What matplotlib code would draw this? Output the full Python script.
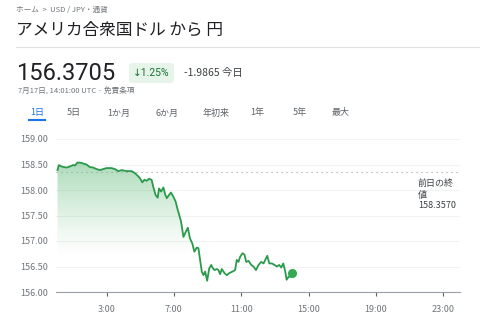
import matplotlib.pyplot as plt
import numpy as np
from matplotlib.patches import FancyBboxPatch, Polygon

plt.rcParams['font.family'] = ['Noto Sans CJK JP', 'DejaVu Sans']

# 時刻 (UTC, 時) と USD/JPY の値
hours = [0.09, 0.17, 0.33, 0.62, 0.82, 1.02, 1.12, 1.28, 1.52, 1.81, 2.01, 2.21, 2.41, 2.61,
         2.8, 3.0, 3.3, 3.5, 3.7, 3.9, 4.2, 4.5, 4.69, 4.85, 4.99, 5.13, 5.25, 5.39, 5.52,
         5.68, 5.78, 5.92, 6.04, 6.12, 6.24, 6.38, 6.48, 6.58, 6.71, 6.83, 6.97, 7.11, 7.23,
         7.27, 7.43, 7.57, 7.71, 7.83, 7.96, 8.1, 8.22, 8.36, 8.46, 8.56, 8.66, 8.76, 8.86,
         8.98, 9.1, 9.22, 9.29, 9.41, 9.55, 9.65, 9.75, 9.85, 10.01, 10.15, 10.29, 10.48,
         10.64, 10.74, 10.84, 10.94, 11.08, 11.2, 11.3, 11.44, 11.6, 11.73, 11.88, 12.03,
         12.19, 12.33, 12.43, 12.55, 12.67, 12.83, 12.98, 13.12, 13.26, 13.38, 13.5, 13.62,
         13.7, 13.82, 13.92, 14.02]
values = [158.39, 158.49, 158.46, 158.44, 158.46, 158.49, 158.48, 158.54, 158.53, 158.50,
          158.45, 158.44, 158.41, 158.39, 158.41, 158.43, 158.43, 158.41, 158.37, 158.39,
          158.37, 158.37, 158.33, 158.28, 158.23, 158.15, 158.20, 158.18, 158.22, 158.20,
          158.06, 157.90, 157.85, 158.03, 157.97, 158.05, 157.92, 157.84, 157.90, 157.95,
          157.87, 157.77, 157.61, 157.57, 157.38, 157.08, 157.18, 157.26, 157.05, 156.95,
          156.79, 156.87, 156.86, 156.63, 156.40, 156.33, 156.40, 156.22, 156.46, 156.53,
          156.48, 156.43, 156.45, 156.43, 156.35, 156.45, 156.37, 156.33, 156.37, 156.40,
          156.43, 156.63, 156.59, 156.69, 156.76, 156.73, 156.59, 156.61, 156.53, 156.50,
          156.43, 156.53, 156.59, 156.56, 156.63, 156.71, 156.56, 156.56, 156.53, 156.50,
          156.53, 156.48, 156.56, 156.40, 156.24, 156.30, 156.30, 156.3705]
prev_close = 158.3570
y_ticks = [156.0, 156.5, 157.0, 157.5, 158.0, 158.5, 159.0]
x_ticks = [3, 7, 11, 15, 19, 23]
x_labels = ['3:00', '7:00', '11:00', '15:00', '19:00', '23:00']
tabs = ['1日', '5日', '1か月', '6か月', '年初来', '1年', '5年', '最大']
tab_x = [30, 67, 107, 155, 203, 250, 293, 332]

W, H = 480, 323
fig = plt.figure(figsize=(W / 100, H / 100), dpi=100)
fig.patch.set_facecolor('white')


def px(x, y):
    return x / W, 1 - y / H


gray = '#70757a'
dark = '#202124'

fig.text(*px(16, 10), 'ホーム  >  USD / JPY・通貨', fontsize=5.5, color=gray, va='center')
fig.text(*px(16, 30), 'アメリカ合衆国ドル から 円', fontsize=12, color=dark, va='center')
fig.add_artist(plt.Line2D([16 / W, 1], [1 - 47 / H] * 2, color='#e0e0e0', lw=0.8))

fig.text(*px(16, 74), '156.3705', fontsize=17, color=dark, va='center', family='Roboto')
box = FancyBboxPatch(px(129, 83), 45 / W, 20 / H, boxstyle='round,pad=0,rounding_size=0.01',
                     transform=fig.transFigure, facecolor='#e6f4ea', edgecolor='none')
fig.add_artist(box)
fig.text(*px(151.5, 73), '↓1.25%', fontsize=7.5, color='#137333', va='center', ha='center',
         family=['Roboto', 'DejaVu Sans'])
fig.text(*px(184, 73), '-1.9865 今日', fontsize=7.5, color='#3c4043', va='center')
fig.text(*px(18, 92), '7月17日, 14:01:00 UTC · 免責条項', fontsize=5.5, color=gray, va='center')

for t, x in zip(tabs, tab_x):
    fig.text(*px(x, 113), t, fontsize=6.5, color='#1a73e8' if t == '1日' else '#5f6368',
             va='center')
fig.add_artist(plt.Line2D([29 / W, 45 / W], [1 - 119.5 / H] * 2, color='#1a73e8', lw=1.5))

ax = fig.add_axes([56 / W, 31 / H, 404 / W, 153 / H])
ax.set_xlim(0, 24)
ax.set_ylim(156, 159)

# gradient fill under the line
poly = Polygon(list(zip(hours, values)) + [(hours[-1], 156), (hours[0], 156)],
               closed=True, facecolor='none', edgecolor='none')
ax.add_patch(poly)
grad = np.zeros((200, 2, 4))
rgb = np.array([52, 168, 83]) / 255
levels = np.linspace(159, 156, 200)
alpha = np.clip((levels - 156.7) / (158.6 - 156.7), 0, 1) ** 1.2 * 0.42
grad[:, :, :3] = rgb
grad[:, :, 3] = alpha[:, None]
im = ax.imshow(grad, extent=[0, 24, 156, 159], aspect='auto', origin='upper', zorder=1)
im.set_clip_path(poly)

ax.plot(hours, values, color='#2a9a4a', lw=1.3, zorder=3)
ax.plot(hours[-1], values[-1], 'o', color='#34a853', ms=5.5, zorder=4)
ax.axhline(prev_close, color='#9aa0a6', lw=0.8, ls=(0, (1, 3.5)), zorder=2)

for s in ['top', 'right', 'left']:
    ax.spines[s].set_visible(False)
ax.spines['bottom'].set_color('#9aa0a6')
ax.spines['bottom'].set_linewidth(0.8)
ax.set_yticks(y_ticks)
ax.set_yticklabels([f'{v:.2f}' for v in y_ticks])
ax.set_xticks(x_ticks)
ax.set_xticklabels(x_labels)
ax.tick_params(axis='y', length=0, pad=6, labelsize=6.5, labelcolor=gray)
ax.tick_params(axis='x', length=3, width=0.8, color='#5f6368', pad=6, labelsize=6.5,
               labelcolor=gray)
ax.grid(axis='y', color='#f1f3f4', lw=0.8, zorder=0)
ax.set_axisbelow(True)

fig.text(*px(418, 183), '前日の終', fontsize=6.5, color='#3c4043', va='center')
fig.text(*px(418, 195), '値', fontsize=6.5, color='#3c4043', va='center')
fig.text(*px(418, 206), '158.3570', fontsize=6.5, color='#3c4043', va='center')

fig.savefig('out.png', dpi=100, facecolor='white')
